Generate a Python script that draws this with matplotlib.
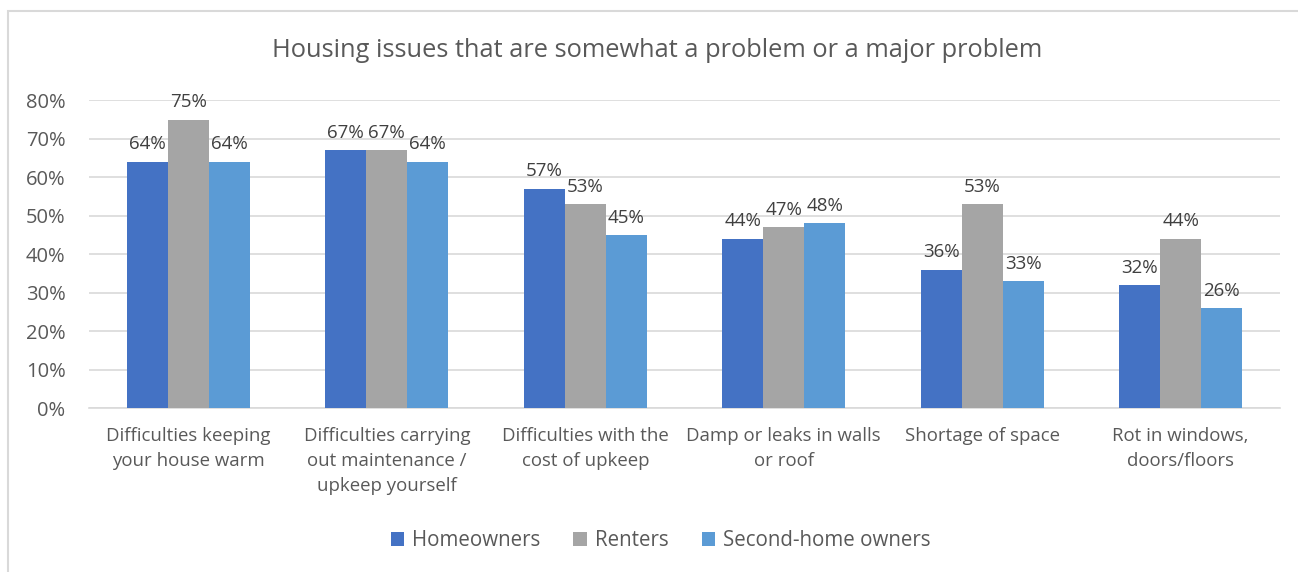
import numpy as np
import matplotlib.pyplot as plt
from matplotlib.patches import Rectangle

categories = ["Difficulties keeping\nyour house warm",
              "Difficulties carrying\nout maintenance /\nupkeep yourself",
              "Difficulties with the\ncost of upkeep",
              "Damp or leaks in walls\nor roof",
              "Shortage of space",
              "Rot in windows,\ndoors/floors"]
homeowners = [64, 67, 57, 44, 36, 32]
renters = [75, 67, 53, 47, 53, 44]
second_home = [64, 64, 45, 48, 33, 26]

series = [("Homeowners", homeowners, "#4472C4"),
          ("Renters", renters, "#A5A5A5"),
          ("Second-home owners", second_home, "#5B9BD5")]

TEXT = "#595959"
GRID = "#D9D9D9"
plt.rcParams['font.family'] = ['Open Sans', 'DejaVu Sans']

fig = plt.figure(figsize=(12.98, 5.72), dpi=100)
ax = fig.add_axes([0.0686, 0.2867, 0.9175, 0.538])

# chart frame (runs off the right and bottom edge)
fig.patches.append(Rectangle((8 / 1298, -0.1), 1.2, 0.1 + (572 - 11) / 572,
                             transform=fig.transFigure, fill=False,
                             edgecolor=GRID, linewidth=1.5))

x = np.arange(len(categories))
w = 0.207
for i, (name, vals, col) in enumerate(series):
    pos = x + (i - 1) * w
    ax.bar(pos, vals, width=w, color=col, label=name, zorder=3)
    for p, v in zip(pos, vals):
        ax.annotate(f"{v}%", (p, v), xytext=(0, 6), textcoords="offset points",
                    ha="center", va="bottom", fontsize=13.5, color="#404040")

ax.set_xlim(-0.5, len(categories) - 0.5)
ax.set_ylim(0, 80)
ax.set_yticks(range(0, 81, 10))
ax.set_yticklabels([f"{t}%" for t in range(0, 81, 10)], fontsize=14.5, color=TEXT)
ax.set_xticks(x)
ax.set_xticklabels(categories, fontsize=13.4, color=TEXT, va="top", linespacing=1.48)
ax.tick_params(axis="x", length=0, pad=14)
ax.tick_params(axis="y", length=0, pad=17)
ax.grid(axis="y", color=GRID, linewidth=1.2, zorder=0)
for s in ["top", "right", "left"]:
    ax.spines[s].set_visible(False)
ax.spines["bottom"].set_color(GRID)
ax.spines["bottom"].set_linewidth(1.2)

fig.text(0.506, 0.912, "Housing issues that are somewhat a problem or a major problem",
         ha="center", va="center", fontsize=18.3, color=TEXT)

fig.legend(loc="center", bbox_to_anchor=(0.509, 0.055), ncol=3, frameon=False,
           fontsize=14.8, labelcolor=TEXT, handlelength=0.65, handleheight=0.65,
           handletextpad=0.4, columnspacing=1.6)

fig.savefig("out.png", dpi=100)
